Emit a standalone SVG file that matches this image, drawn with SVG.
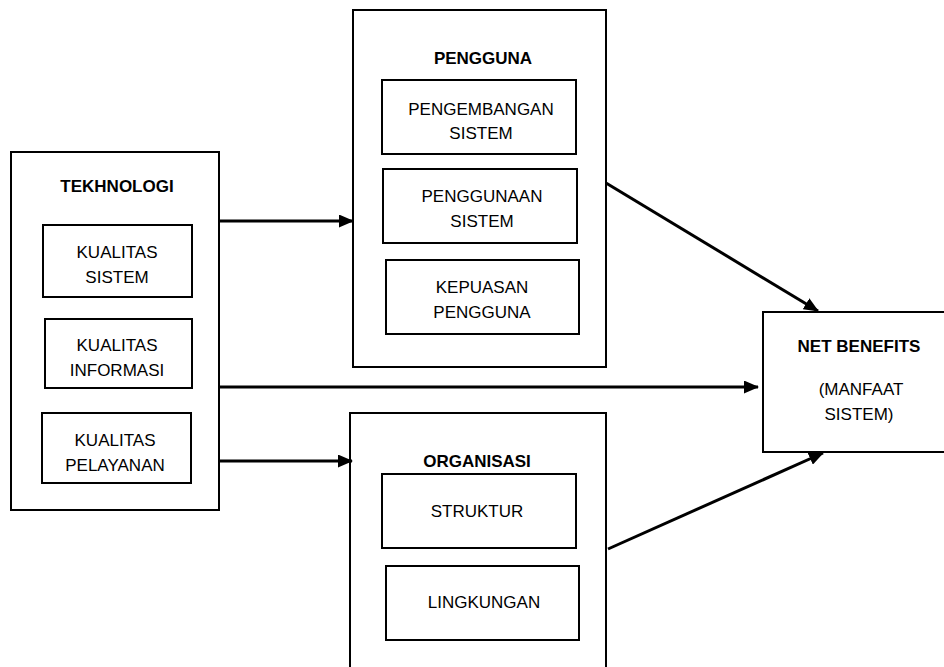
<svg xmlns="http://www.w3.org/2000/svg" width="944" height="667" viewBox="0 0 944 667">
<style>
.box{fill:#fff;stroke:#000;stroke-width:2}
.t{font-family:"Liberation Sans",Arial,sans-serif;font-size:17px;fill:#000;text-anchor:middle}
.b{font-weight:bold}
.c{stroke:#000;stroke-width:3;fill:none}
</style>
<defs>
<marker id="ah" markerUnits="userSpaceOnUse" markerWidth="15" markerHeight="13" refX="14" refY="6.5" orient="auto">
<path d="M0,0 L15,6.5 L0,13 z" fill="#000"/>
</marker>
</defs>
<rect width="944" height="667" fill="#fff"/>
<g id="tekhnologi">
<rect class="box" x="11" y="152" width="208" height="358"/>
<text class="t b" x="117" y="192">TEKHNOLOGI</text>
<rect class="box" x="43" y="225" width="149" height="72"/>
<text class="t" x="117" y="258">KUALITAS</text>
<text class="t" x="117" y="283">SISTEM</text>
<rect class="box" x="45" y="319" width="147" height="69"/>
<text class="t" x="117" y="351">KUALITAS</text>
<text class="t" x="117" y="376">INFORMASI</text>
<rect class="box" x="42" y="413" width="149" height="70"/>
<text class="t" x="115" y="446">KUALITAS</text>
<text class="t" x="115" y="471">PELAYANAN</text>
</g>
<g id="pengguna">
<rect class="box" x="353" y="10" width="253" height="357"/>
<text class="t b" x="483" y="64">PENGGUNA</text>
<rect class="box" x="382" y="80" width="194" height="74"/>
<text class="t" x="481" y="115">PENGEMBANGAN</text>
<text class="t" x="481" y="139">SISTEM</text>
<rect class="box" x="383" y="169" width="194" height="74"/>
<text class="t" x="482" y="202">PENGGUNAAN</text>
<text class="t" x="482" y="227">SISTEM</text>
<rect class="box" x="386" y="260" width="193" height="74"/>
<text class="t" x="482" y="293">KEPUASAN</text>
<text class="t" x="482" y="318">PENGGUNA</text>
</g>
<g id="organisasi">
<rect class="box" x="350" y="413" width="256" height="270"/>
<text class="t b" x="477" y="467">ORGANISASI</text>
<rect class="box" x="382" y="474" width="194" height="74"/>
<text class="t" x="477" y="517">STRUKTUR</text>
<rect class="box" x="386" y="566" width="193" height="74"/>
<text class="t" x="484" y="608">LINGKUNGAN</text>
</g>
<g id="netbenefits">
<rect class="box" x="763" y="312" width="200" height="140"/>
<text class="t b" x="859" y="352">NET BENEFITS</text>
<text class="t" x="861" y="395">(MANFAAT</text>
<text class="t" x="859" y="420">SISTEM)</text>
</g>
<g id="connectors">
<line class="c" x1="219" y1="221" x2="353" y2="221" marker-end="url(#ah)"/>
<line class="c" x1="219" y1="387" x2="758" y2="387" marker-end="url(#ah)"/>
<line class="c" x1="219" y1="461" x2="352" y2="461" marker-end="url(#ah)"/>
<line class="c" x1="606" y1="183" x2="818" y2="311" marker-end="url(#ah)"/>
<line class="c" x1="608" y1="549" x2="823" y2="453" marker-end="url(#ah)"/>
</g>
</svg>
